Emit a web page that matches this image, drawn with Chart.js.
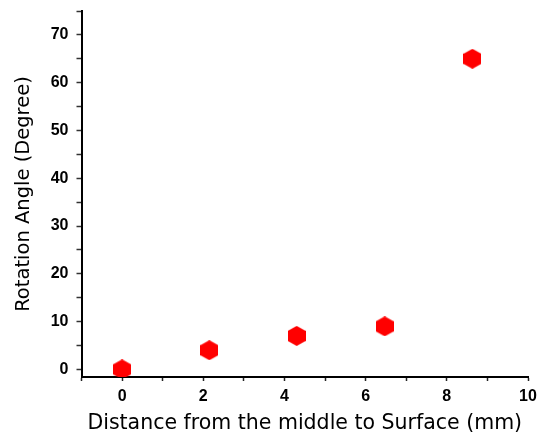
<!DOCTYPE html>
<html>
<head>
<meta charset="utf-8">
<script src="https://cdn.jsdelivr.net/npm/chart.js@4/dist/chart.umd.min.js"></script>
<style>
  html, body { margin: 0; padding: 0; background: #fff; }
  canvas { display: block; }
</style>
</head>
<body>
<canvas id="rotationChart" width="539" height="434"></canvas>
<script>
// values
const distanceMm = [0, 2.15, 4.3, 6.47, 8.63];
const rotationDeg = [0, 4, 7, 9, 65];

// tick positions (labelled ones are the even / multiple-of-10 ones)
const xTicks = [-1, 0, 1, 2, 3, 4, 5, 6, 7, 8, 9, 10];
const yTicks = [0, 5, 10, 15, 20, 25, 30, 35, 40, 45, 50, 55, 60, 65, 70, 75];

const xLabel = 'Distance from the middle to Surface (mm)';
const yLabel = 'Rotation Angle (Degree)';

/**
 * Pointy-top red hexagon used as point style
 */
function makeHexagon(w, h, color) {
  const c = document.createElement('canvas');
  c.width = w;
  c.height = h;
  const g = c.getContext('2d');
  g.fillStyle = color;
  g.beginPath();
  g.moveTo(w / 2, 0);
  g.lineTo(w, h / 4);
  g.lineTo(w, h * 3 / 4);
  g.lineTo(w / 2, h);
  g.lineTo(0, h * 3 / 4);
  g.lineTo(0, h / 4);
  g.closePath();
  g.fill();
  return c;
}

const hexagon = makeHexagon(18, 20, '#ff0000');

const tickFont = { family: 'Arial, "Liberation Sans", sans-serif', size: 16, weight: 'bold' };
const xTitleFont = { family: '"DejaVu Sans", sans-serif', size: 20.5, weight: 'normal', lineHeight: 1 };
const yTitleFont = { family: '"DejaVu Sans", sans-serif', size: 19.5, weight: 'normal', lineHeight: 1 };

const ctx = document.getElementById('rotationChart').getContext('2d');

new Chart(ctx, {
  type: 'scatter',
  data: {
    datasets: [
      {
        label: 'Rotation Angle',
        data: distanceMm.map((x, i) => ({ x: x, y: rotationDeg[i] })),
        pointStyle: hexagon,
        pointRadius: 10,
        clip: 0
      }
    ]
  },
  options: {
    responsive: false,
    animation: false,
    devicePixelRatio: 1,
    layout: {
      padding: { left: 0, right: 8, top: 10, bottom: 0 }
    },
    plugins: {
      legend: { display: false },
      tooltip: { enabled: false }
    },
    scales: {
      x: {
        type: 'linear',
        min: -1,
        max: 10,
        afterBuildTicks(scale) {
          scale.ticks = xTicks.map(v => ({ value: v }));
        },
        afterFit(scale) {
          scale.height = 57;
          scale.paddingLeft = 0;
          scale.paddingRight = 0;
        },
        border: { display: true, color: '#000', width: 2 },
        grid: {
          drawOnChartArea: false,
          drawTicks: true,
          tickLength: 4,
          tickColor: '#222',
          tickWidth: 1.5
        },
        ticks: {
          autoSkip: false,
          maxRotation: 0,
          padding: 6,
          color: '#000',
          font: tickFont,
          callback(value) {
            return value % 2 === 0 ? String(value) : '';
          }
        },
        title: {
          display: true,
          text: xLabel,
          color: '#000',
          font: xTitleFont,
          padding: { top: 0, bottom: 0 }
        }
      },
      y: {
        type: 'linear',
        min: -1.6,
        max: 75,
        afterBuildTicks(scale) {
          scale.ticks = yTicks.map(v => ({ value: v }));
        },
        afterFit(scale) {
          scale.width = 81.5;
          scale.paddingTop = 0;
          scale.paddingBottom = 0;
        },
        border: { display: true, color: '#000', width: 2 },
        grid: {
          drawOnChartArea: false,
          drawTicks: true,
          tickLength: 5,
          tickColor: '#333',
          tickWidth: 1.5
        },
        ticks: {
          autoSkip: false,
          padding: 8,
          color: '#000',
          font: tickFont,
          callback(value) {
            return value % 10 === 0 ? String(value) : '';
          }
        },
        title: {
          display: true,
          text: yLabel,
          color: '#000',
          font: yTitleFont,
          padding: { top: 14, bottom: 0 }
        }
      }
    }
  }
});
</script>
</body>
</html>
